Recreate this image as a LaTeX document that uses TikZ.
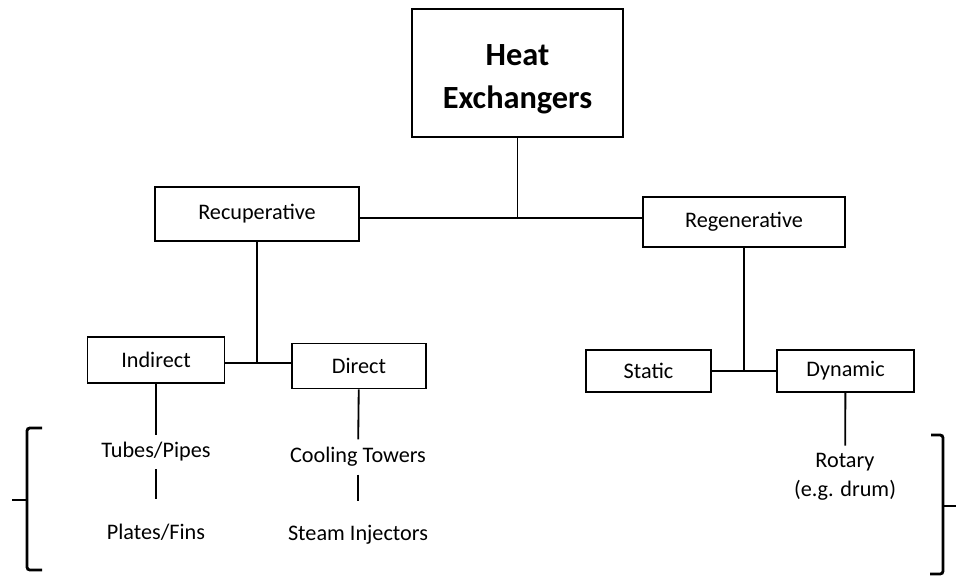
\documentclass[tikz,border=0pt]{standalone}
\usepackage{fontspec}
\setmainfont{Carlito}
\usetikzlibrary{positioning}
\tikzset{
  box/.style={draw, line width=1.3pt, inner sep=0pt, font=\fontsize{15.8}{18}\selectfont},
  leaf/.style={inner xsep=0pt, inner ysep=5pt, align=center, font=\fontsize{15.8}{20.6}\selectfont},
}

\begin{document}
\begin{tikzpicture}[x=0.025cm,y=-0.025cm,line width=1.3pt]
\useasboundingbox (0,0) rectangle (970,576);

\node[box,minimum width=150.1pt,minimum height=91pt,align=center,font=\fontsize{23}{30.6}\selectfont\bfseries] (heat) at (517.5,73) {\rule{0pt}{24pt}Heat\\Exchangers};

\node[box,minimum width=145.1pt,minimum height=38.4pt] (recup) at (257,214) {Recuperative};
\node[box,minimum width=143.7pt,minimum height=35.6pt] (regen) at (744,222) {Regenerative};

\node[box,minimum width=97.5pt,minimum height=32.7pt] (indirect) at (156,360) {Indirect};
\node[box,minimum width=95.3pt,minimum height=32pt] (direct) at (359,366) {Direct};
\node[box,minimum width=88.9pt,minimum height=29.9pt] (static) at (648.5,371) {Static};
\node[box,minimum width=97.5pt,minimum height=29.9pt] (dynamic) at (845.5,371) {Dynamic};

\node[leaf] (tubes) at (156,452) {Tubes/Pipes};
\node[leaf] (plates) at (156,532) {Plates/Fins};
\node[leaf] (cooling) at (358,457) {Cooling Towers};
\node[leaf] (steam) at (358,535) {Steam Injectors};
\node[leaf] (rotary) at (845,477) {Rotary\\(e.g. drum)};

\coordinate (top) at (heat.south |- 0,218);
\coordinate (left) at (recup.south |- 0,363);
\coordinate (right) at (regen.south |- 0,371);

\draw (recup.east |- top) -- (regen.west |- top);
\draw (heat.south) -- (top);
\draw (indirect.east |- left) -- (direct.west |- left);
\draw (recup.south) -- (left);
\draw (static.east) -- (dynamic.west);
\draw (regen.south) -- (right);

\draw (indirect) -- (tubes);
\draw[shorten >=12pt] (tubes) -- (plates);
\draw (direct) -- (cooling);
\draw[shorten >=12pt] (cooling) -- (steam);
\draw (dynamic) -- (rotary);

\draw[line width=2pt,rounded corners=2pt] (42,428) -- (27,428) -- (27,570) -- (42,570);
\draw[line width=2pt] (27,500) -- (12,500);
\draw[line width=2pt,rounded corners=2pt] (931,435) -- (943,435) -- (943,574) -- (930,574);
\draw[line width=2pt] (943,506) -- (956,506);
\end{tikzpicture}
\end{document}
